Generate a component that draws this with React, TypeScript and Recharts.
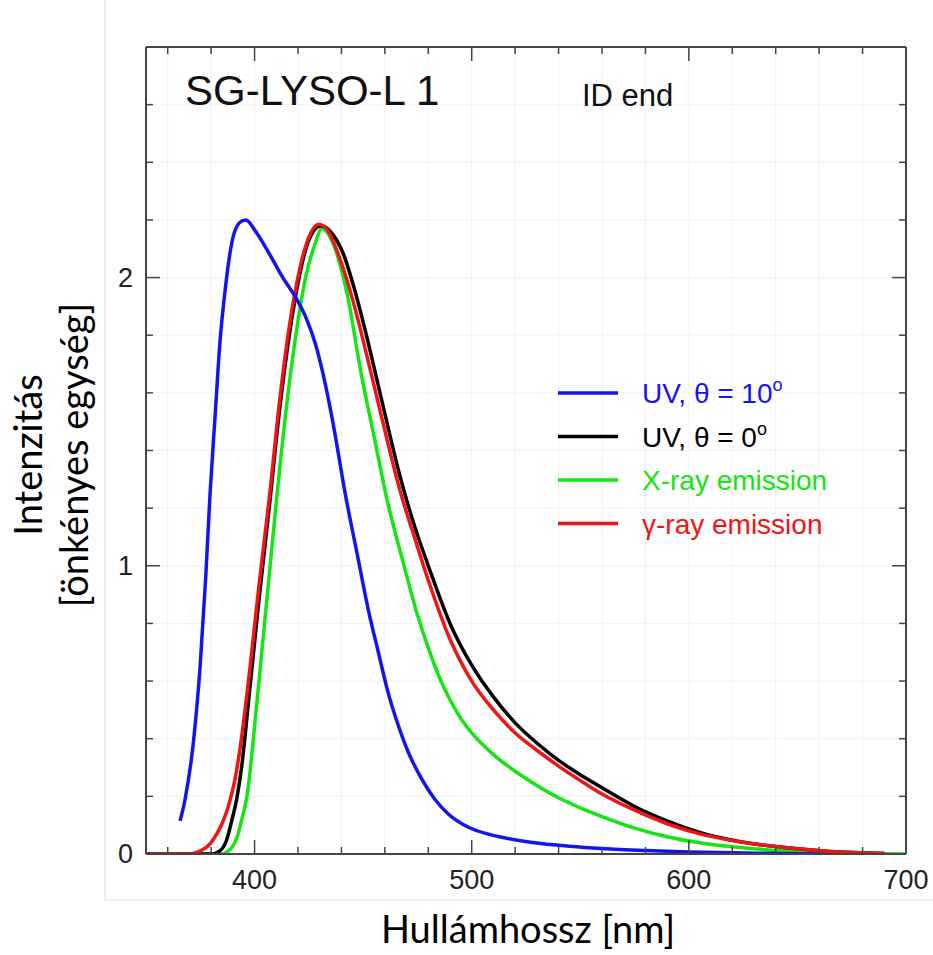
import React from 'react'
import { LineChart, Line, XAxis, YAxis, CartesianGrid, Customized } from 'recharts'

// UV excitation, theta = 10 deg (blue)
const uv10Nm = [365.7, 368, 372, 375, 377.5, 379.5, 382, 384, 386.5, 389.5, 393, 396, 400.5, 407, 413, 419, 424, 428, 432, 436, 442, 447.7, 452.3, 457, 461.5, 466.2, 470.8, 477, 483, 489.2, 498.5, 507.7, 513.8, 528, 545, 560, 580, 600, 630, 660]
const uv10Val = [0.115, 0.19, 0.4, 0.66, 0.96, 1.25, 1.54, 1.77, 1.96, 2.12, 2.19, 2.2, 2.16, 2.08, 2.0, 1.93, 1.855, 1.77, 1.65, 1.5, 1.24, 1.024, 0.85, 0.7, 0.56, 0.446, 0.353, 0.26, 0.19, 0.139, 0.093, 0.069, 0.058, 0.04, 0.027, 0.019, 0.012, 0.007, 0.003, 0]

// UV excitation, theta = 0 deg (black)
const uv0Nm = [350, 380, 384, 387, 389.5, 392, 394, 397.5, 402, 407, 411.5, 416, 420.5, 425, 430.5, 436, 441, 446, 451.5, 459, 467, 474, 480, 490, 500, 510, 520, 530, 540, 550, 560, 575, 590, 605, 620, 635, 650, 665, 690]
const uv0Val = [0, 0, 0.011, 0.046, 0.116, 0.2, 0.3, 0.55, 0.88, 1.22, 1.54, 1.8, 2.0, 2.13, 2.18, 2.15, 2.08, 1.96, 1.8, 1.56, 1.31, 1.13, 1.0, 0.8, 0.655, 0.545, 0.455, 0.385, 0.325, 0.275, 0.23, 0.165, 0.115, 0.075, 0.048, 0.03, 0.018, 0.009, 0.002]

// X-ray emission (green)
const xrayNm = [350, 384, 388, 392, 394, 396.5, 401, 405.5, 410, 414.5, 419, 423.5, 428, 431, 434, 438, 443, 449, 455, 461, 468.5, 475, 480, 485, 490, 495, 500, 510, 520, 530, 540, 550, 560, 575, 590, 605, 620, 635, 650, 665, 700]
const xrayVal = [0, 0, 0.011, 0.06, 0.116, 0.2, 0.52, 0.87, 1.22, 1.54, 1.8, 2.0, 2.12, 2.17, 2.15, 2.08, 1.93, 1.67, 1.45, 1.23, 1.01, 0.83, 0.715, 0.615, 0.535, 0.47, 0.42, 0.345, 0.287, 0.238, 0.195, 0.16, 0.13, 0.09, 0.06, 0.039, 0.025, 0.015, 0.009, 0.004, 0]

// gamma-ray emission (red)
const gammaNm = [350, 370, 375, 379.5, 383, 385, 387.5, 389, 391, 393, 397.5, 402, 407, 411.5, 416, 420.5, 425, 429.5, 434, 440, 446, 452, 459, 467, 474, 480, 490, 500, 510, 520, 530, 540, 550, 560, 575, 590, 605, 620, 635, 650, 665, 690]
const gammaVal = [0, 0, 0.011, 0.035, 0.075, 0.105, 0.155, 0.195, 0.26, 0.35, 0.62, 0.93, 1.25, 1.57, 1.83, 2.02, 2.14, 2.185, 2.16, 2.05, 1.9, 1.72, 1.5, 1.26, 1.09, 0.95, 0.745, 0.6, 0.5, 0.42, 0.36, 0.305, 0.255, 0.208, 0.152, 0.105, 0.07, 0.047, 0.03, 0.018, 0.009, 0.002]

const xTicks = [360, 380, 400, 420, 440, 460, 480, 500, 520, 540, 560, 580, 600, 620, 640, 660, 680, 700]
const yTicks = [0, 0.2, 0.4, 0.6, 0.8, 1, 1.2, 1.4, 1.6, 1.8, 2, 2.2, 2.4, 2.6, 2.8]
const xLabels = [400, 500, 600, 700]
const yLabels = [0, 1, 2]

const legendLabels = ['UV, θ = 10', 'UV, θ = 0', 'X-ray emission', 'γ-ray emission']
const legendSup = ['o', 'o', '', '']
const colors = ['#1414f0', '#000000', '#14e614', '#f01414']

const toPoints = (nm: number[], val: number[]) => nm.map((x, i) => ({ nm: x, v: val[i] }))

const series = [
  { key: 'uv10', data: toPoints(uv10Nm, uv10Val) },
  { key: 'uv0', data: toPoints(uv0Nm, uv0Val) },
  { key: 'xray', data: toPoints(xrayNm, xrayVal) },
  { key: 'gamma', data: toPoints(gammaNm, gammaVal) },
]
// draw order: green, black, red, blue
const drawOrder = [2, 1, 3, 0]

const helv = '"Liberation Sans", Arial, Helvetica, sans-serif'
const calibri = 'Lato, "Open Sans", sans-serif'
const frame = '#444'

const isMajorX = (v: number) => xLabels.includes(v)
const isMajorY = (v: number) => yLabels.some(l => Math.abs(l - v) < 1e-6)

const BottomTick = ({ x, y, payload }: any) => {
  const major = isMajorX(payload.value)
  return (
    <g>
      <line x1={x} x2={x} y1={y} y2={y - (major ? 14 : 7)} stroke={frame} strokeWidth={1.5} />
      {major && (
        <text x={x} y={y + 35} textAnchor="middle" fontSize={27} fill="#222" fontFamily={helv}>
          {payload.value}
        </text>
      )}
    </g>
  )
}

const TopTick = ({ x, y, payload }: any) => (
  <line x1={x} x2={x} y1={y} y2={y + (isMajorX(payload.value) ? 14 : 7)} stroke={frame} strokeWidth={1.5} />
)

const LeftTick = ({ x, y, payload }: any) => {
  const major = isMajorY(payload.value)
  return (
    <g>
      <line x1={x} x2={x + (major ? 14 : 7)} y1={y} y2={y} stroke={frame} strokeWidth={1.5} />
      {major && (
        <text x={x - 13} y={y + 9} textAnchor="end" fontSize={27} fill="#222" fontFamily={helv}>
          {Math.round(payload.value)}
        </text>
      )}
    </g>
  )
}

const RightTick = ({ x, y, payload }: any) => (
  <line x1={x} x2={x - (isMajorY(payload.value) ? 14 : 7)} y1={y} y2={y} stroke={frame} strokeWidth={1.5} />
)

const Overlay = () => (
  <g>
    <rect x={105} y={-2} width={840} height={902} fill="none" stroke="#dddddd" strokeWidth={1} />
    <text x={185} y={105} fontSize={42} fill="#111" fontFamily={helv}>SG-LYSO-L 1</text>
    <text x={582} y={106} fontSize={31} fill="#111" fontFamily={helv}>ID end</text>
    {legendLabels.map((label, i) => {
      const cy = 393 + i * 43.5
      return (
        <g key={label}>
          <line x1={558} x2={618} y1={cy} y2={cy} stroke={colors[i]} strokeWidth={3.5} />
          <text x={642} y={cy + 10} fontSize={28} fill={colors[i]} fontFamily={helv}>
            {label}
            {legendSup[i] && <tspan dy={-12} fontSize={18}>{legendSup[i]}</tspan>}
          </text>
        </g>
      )
    })}
    <text transform="translate(42,455) rotate(-90)" textAnchor="middle" fontSize={38} fill="#000" fontFamily={calibri}>
      Intenzitás
    </text>
    <text transform="translate(88,455) rotate(-90)" textAnchor="middle" fontSize={38} fill="#000" fontFamily={calibri}>
      [önkényes egység]
    </text>
    <text x={528} y={943} textAnchor="middle" fontSize={38} fill="#000" fontFamily={calibri}>
      Hullámhossz [nm]
    </text>
  </g>
)

export default function App() {
  return (
    <div style={{ position: 'absolute', left: 0, top: 0, width: 933, height: 955, background: '#fff' }}>
      <LineChart width={933} height={955} margin={{ top: 7, right: 0, bottom: 0, left: 0 }}>
        <CartesianGrid stroke="#f2f2f2" strokeWidth={1} />
        <XAxis
          dataKey="nm"
          type="number"
          domain={[350, 700]}
          ticks={xTicks}
          interval={0}
          height={101}
          tickSize={0}
          tickMargin={0}
          tickLine={false}
          axisLine={{ stroke: frame, strokeWidth: 2 }}
          tick={<BottomTick />}
          allowDataOverflow
        />
        <XAxis
          xAxisId="top"
          orientation="top"
          dataKey="nm"
          type="number"
          domain={[350, 700]}
          ticks={xTicks}
          interval={0}
          height={40}
          tickSize={0}
          tickMargin={0}
          tickLine={false}
          axisLine={{ stroke: frame, strokeWidth: 2 }}
          tick={<TopTick />}
          allowDataOverflow
        />
        <YAxis
          type="number"
          domain={[0, 2.8]}
          ticks={yTicks}
          interval={0}
          width={146}
          tickSize={0}
          tickMargin={0}
          tickLine={false}
          axisLine={{ stroke: frame, strokeWidth: 2 }}
          tick={<LeftTick />}
          allowDataOverflow
        />
        <YAxis
          yAxisId="right"
          orientation="right"
          type="number"
          domain={[0, 2.8]}
          ticks={yTicks}
          interval={0}
          width={27}
          tickSize={0}
          tickMargin={0}
          tickLine={false}
          axisLine={{ stroke: frame, strokeWidth: 2 }}
          tick={<RightTick />}
          allowDataOverflow
        />
        {drawOrder.map(i => (
          <Line
            key={series[i].key}
            data={series[i].data}
            dataKey="v"
            type="monotone"
            stroke={colors[i]}
            strokeWidth={3.5}
            dot={false}
            activeDot={false}
            isAnimationActive={false}
          />
        ))}
        <Customized component={Overlay} />
      </LineChart>
    </div>
  )
}
